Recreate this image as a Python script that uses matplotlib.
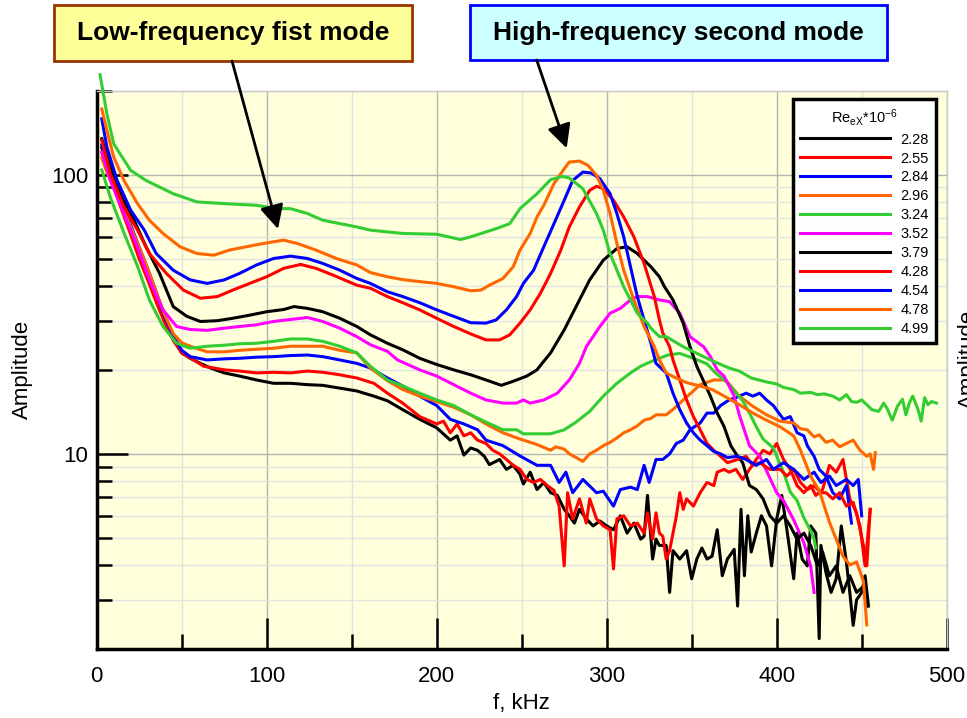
import matplotlib.pyplot as plt
from matplotlib.patches import Rectangle, FancyArrowPatch
from matplotlib.ticker import MultipleLocator, LogLocator, NullFormatter, FuncFormatter

plt.rcParams['font.family'] = ['Liberation Sans', 'DejaVu Sans']
plt.rcParams['mathtext.default'] = 'regular'

# legend labels (Re_eX * 1e-6) and line colours
re_labels = ['2.28', '2.55', '2.84', '2.96', '3.24', '3.52', '3.79', '4.28', '4.54', '4.78', '4.99']
colors = ['#000000', '#FF0000', '#0000FF', '#FF6600', '#33CC33', '#FF00FF',
          '#000000', '#FF0000', '#0000FF', '#FF6600', '#33CC33']

# (f [kHz], amplitude)
s228 = [(3, 125), (6, 108), (10, 92), (15, 76), (20, 63), (25, 52), (30, 43), (35, 36), (40, 30), (45, 26),
        (50, 23), (55, 22), (61, 21.1), (67, 20.3), (75, 19.5), (84, 19.0), (94, 18.4), (104, 17.9), (114, 17.9),
        (124, 17.7), (133, 17.6), (143, 17.2), (153, 16.8), (163, 16.1), (171, 15.5), (180, 14.4), (190, 13.3),
        (200, 12.4), (208, 11.2), (212, 11.6), (216, 9.9), (220, 10.5), (224, 10.3), (228, 9.8), (231, 9.15),
        (237, 9.55), (241, 8.8), (245, 9.1), (249, 8.45), (251, 7.8), (255, 8.6), (259, 7.45), (263, 7.9),
        (267, 7.26), (271, 7.1), (275, 6.33), (278, 6.0), (281, 5.65), (284, 6.33), (288, 5.85), (292, 5.52),
        (296, 5.75), (300, 5.52), (304, 5.35), (308, 6.0), (312, 5.2), (316, 5.65), (320, 4.95), (322, 5.07),
        (324, 7.1), (327, 4.2), (329, 4.95), (331, 4.7), (335, 4.7), (337, 3.19), (339, 4.5), (343, 4.2),
        (347, 4.5), (350, 3.57), (353, 4.2), (356, 4.6), (359, 4.2), (362, 4.3), (365, 5.35), (368, 3.66),
        (371, 4.2), (375, 4.55), (377, 2.85), (379, 6.33), (381, 3.66), (383, 6.0), (385, 4.45), (388, 5.2),
        (391, 6.0), (394, 5.52), (397, 3.97), (400, 5.85), (403, 7.1), (406, 5.35), (410, 3.57), (412, 5.2),
        (415, 4.2), (418, 3.97), (420, 5.52), (423, 5.2), (425, 2.18), (426, 4.7), (429, 3.75), (432, 3.19),
        (435, 3.57), (438, 5.52), (441, 4.1), (443, 3.19), (445, 2.43), (447, 3.0), (450, 3.19), (452, 3.66),
        (454, 2.85)]
s255 = [(3, 120), (6, 104), (10, 90), (15, 74), (20, 61), (25, 50), (30, 42), (35, 35), (40, 29.5), (45, 25.5),
        (50, 23), (57, 21.7), (63, 20.6), (75, 20.0), (84, 19.8), (94, 19.5), (104, 19.6), (114, 19.5),
        (124, 19.8), (133, 19.6), (143, 19.2), (153, 18.7), (163, 17.9), (167, 17.2), (171, 16.5), (180, 15.2),
        (190, 13.6), (200, 12.8), (204, 13.1), (208, 11.9), (212, 12.8), (216, 11.6), (220, 11.9), (224, 11.2),
        (229, 10.9), (233, 10.3), (237, 10.0), (241, 9.55), (245, 9.1), (249, 8.8), (253, 8.1), (257, 7.9),
        (261, 8.1), (265, 7.7), (269, 7.4), (272, 6.5), (275, 3.97), (277, 7.26), (280, 5.85), (284, 6.9),
        (288, 5.65), (290, 6.9), (294, 5.85), (298, 5.52), (302, 5.35), (304, 3.87), (306, 5.85), (310, 6.0),
        (314, 5.52), (318, 5.65), (322, 5.2), (324, 6.15), (327, 4.95), (329, 6.15), (331, 5.2), (333, 5.07),
        (335, 4.2), (337, 4.5), (341, 6.0), (343, 7.26), (345, 6.33), (347, 6.9), (351, 6.5), (355, 7.26),
        (359, 7.9), (363, 7.7), (365, 8.6), (369, 8.8), (372, 8.6), (376, 8.8), (380, 8.1), (384, 8.8),
        (388, 9.55), (392, 10.3), (396, 10.0), (400, 10.9), (404, 9.55), (408, 8.8), (412, 7.7), (416, 7.26),
        (420, 7.7), (423, 7.1), (427, 7.45), (431, 9.1), (435, 8.6), (439, 9.55), (443, 6.9), (447, 6.15),
        (451, 4.7), (453, 3.97), (455, 6.33)]
s284 = [(3, 128), (6, 112), (10, 95), (15, 79), (20, 66), (25, 55), (30, 46), (35, 38), (40, 31), (45, 26.5),
        (50, 23.5), (55, 22.3), (65, 21.7), (75, 21.9), (84, 22.0), (94, 22.2), (104, 22.3), (114, 22.5),
        (124, 22.6), (133, 22.3), (143, 21.7), (153, 21.1), (161, 20.3), (171, 18.7), (180, 17.5), (190, 16.1),
        (200, 14.9), (208, 13.3), (216, 12.8), (224, 12.2), (229, 11.2), (239, 10.7), (249, 9.83), (259, 9.1),
        (267, 9.1), (272, 7.9), (276, 8.6), (280, 7.26), (286, 8.1), (294, 7.26), (298, 7.35), (304, 6.5),
        (308, 7.45), (314, 7.6), (318, 7.45), (322, 9.1), (325, 7.9), (329, 9.55), (333, 9.55), (337, 10.0),
        (341, 10.9), (345, 11.2), (349, 12.2), (355, 12.9), (359, 14.0), (363, 14.0), (367, 14.9), (372, 15.6),
        (376, 15.9), (382, 16.5), (386, 16.1), (390, 16.5), (394, 15.6), (398, 14.9), (404, 13.3), (408, 13.6),
        (412, 11.9), (416, 11.6), (418, 10.7), (422, 9.8), (425, 8.8), (429, 8.33), (433, 7.26), (437, 6.9),
        (441, 7.7), (444, 5.65)]
s296 = [(3, 115), (6, 102), (10, 90), (15, 77), (20, 65), (25, 55), (30, 46), (35, 38), (40, 31.5), (45, 27),
        (50, 25), (55, 24.3), (65, 23.2), (75, 23.2), (84, 23.5), (94, 23.7), (104, 23.9), (114, 24.3),
        (124, 24.3), (133, 24.3), (143, 23.5), (153, 23.0), (161, 20.3), (171, 18.3), (180, 17.0), (190, 16.1),
        (200, 15.4), (210, 14.7), (220, 13.8), (229, 12.8), (239, 11.9), (249, 11.3), (259, 10.8), (267, 10.3),
        (270, 10.6), (275, 10.4), (278, 10.0), (282, 9.7), (286, 9.4), (290, 10.0), (294, 10.3), (298, 10.7),
        (302, 11.0), (306, 11.4), (310, 11.9), (314, 12.2), (318, 12.6), (322, 13.2), (326, 13.4), (329, 13.8),
        (335, 13.8), (340, 14.6), (345, 15.6), (350, 16.6), (355, 17.7), (363, 18.4), (370, 18.4), (378, 16.1),
        (386, 14.8), (394, 13.8), (402, 13.1), (410, 12.9), (414, 12.3), (418, 12.2), (422, 11.5), (425, 11.7),
        (429, 11.0), (433, 11.2), (437, 10.6), (441, 10.9), (445, 11.2), (449, 10.3), (453, 9.8), (455, 10.0),
        (457, 8.8), (458, 10.1)]
s324 = [(3, 104), (8, 83), (16, 62), (24, 47), (31, 35.6), (39, 28.6), (47, 24.9), (55, 23.9), (65, 24.3),
        (75, 24.5), (84, 24.8), (94, 24.9), (104, 25.3), (114, 25.8), (124, 25.8), (133, 25.3), (143, 24.3),
        (153, 23.0), (161, 20.6), (171, 18.4), (180, 17.5), (190, 16.5), (200, 15.6), (210, 14.9), (220, 13.8),
        (229, 13.0), (239, 12.2), (247, 12.2), (251, 11.8), (259, 11.8), (267, 11.8), (275, 12.2), (282, 13.0),
        (290, 14.2), (298, 16.1), (306, 17.9), (314, 19.5), (320, 20.6), (326, 21.4), (331, 22.0), (336, 22.6),
        (343, 22.9), (351, 22.0), (359, 21.0), (364, 19.5), (371, 18.0), (375, 16.8), (380, 15.5), (384, 14.0),
        (388, 12.5), (392, 11.3), (398, 10.5), (404, 8.6), (408, 7.3), (412, 6.8), (416, 5.9), (420, 5.3),
        (422, 4.95), (423, 4.6)]
s352 = [(3, 120.5), (8, 95.4), (16, 72.6), (24, 55.2), (31, 42), (39, 32.8), (47, 28.6), (55, 27.9), (65, 27.7),
        (75, 28.2), (84, 28.6), (94, 29.0), (104, 29.8), (114, 30.3), (124, 30.8), (133, 29.8), (143, 28.2),
        (153, 26.3), (161, 24.6), (171, 23.3), (177, 21.7), (190, 20.0), (200, 19.0), (210, 17.7), (220, 16.5),
        (229, 15.6), (239, 15.2), (247, 15.2), (251, 15.6), (255, 15.2), (263, 15.6), (271, 16.5), (278, 18.4),
        (284, 21.1), (288, 24.2), (296, 28.6), (302, 31.9), (308, 33.2), (314, 35.6), (318, 36.6), (324, 36.6),
        (331, 35.6), (337, 35.1), (343, 31.9), (349, 26.3), (357, 24.2), (361, 22.3), (365, 20.0), (369, 19.0),
        (375, 16.1), (378, 13.8), (384, 10.7), (390, 9.8), (394, 8.7), (400, 7.26), (404, 6.8), (410, 5.8),
        (416, 4.8), (420, 3.95), (422, 3.19)]
s379 = [(3, 134.5), (8, 106.5), (14, 85.5), (22, 68.7), (29, 55.2), (37, 44.3), (45, 33.7), (53, 31.1),
        (61, 29.8), (71, 30.0), (80, 30.6), (90, 31.4), (100, 32.3), (110, 32.9), (116, 33.7), (124, 33.2),
        (133, 32.3), (143, 30.6), (153, 28.6), (161, 26.7), (171, 24.9), (180, 23.6), (190, 22.0), (200, 20.9),
        (210, 20.0), (220, 19.2), (229, 18.4), (238, 17.6), (245, 18.2), (253, 19.0), (259, 20.0), (262, 21.1),
        (267, 23.0), (275, 27.8), (282, 33.7), (290, 42), (298, 49.4), (306, 54.4), (312, 55.2), (318, 52.2),
        (326, 46.8), (331, 43.1), (334, 39.7), (339, 35.6), (345, 29.4), (349, 24.2), (353, 20.6), (361, 16.1),
        (365, 14.0), (369, 12.55), (373, 10.7), (377, 9.8), (380, 9.3), (384, 7.7), (388, 7.45), (392, 6.9),
        (396, 6.0), (400, 5.65), (404, 6.0), (408, 5.52), (412, 4.95), (416, 5.2), (420, 4.7), (424, 3.97),
        (427, 4.45), (431, 3.66), (435, 3.97), (439, 3.19), (443, 3.66), (447, 3.19), (451, 3.35), (453, 2.85)]
s428 = [(3, 132.6), (8, 100.8), (16, 76.7), (24, 63.3), (31, 52.2), (41, 44.3), (51, 38.6), (61, 36.1),
        (71, 36.6), (80, 38.6), (90, 40.8), (100, 43.1), (110, 46.2), (120, 47.7), (129, 46.2), (139, 43.7),
        (153, 40.2), (161, 39.2), (171, 36.6), (180, 34.8), (190, 32.8), (200, 30.6), (210, 28.6), (220, 26.9),
        (229, 25.6), (237, 25.6), (243, 26.7), (249, 29.4), (255, 32.8), (261, 37.6), (267, 44.3), (273, 53.7),
        (278, 65), (284, 76.7), (290, 87.9), (294, 90.9), (298, 89.1), (304, 81), (310, 70.6), (316, 59.9),
        (322, 48.1), (328, 36.6), (331, 30.2), (333, 27.1), (337, 24.2), (339, 21.7), (343, 18.4), (347, 15.6),
        (351, 13.6), (355, 12.2), (359, 10.9), (363, 10.3), (367, 9.8), (371, 9.3), (377, 9.55), (382, 9.8),
        (386, 9.1), (390, 9.3), (396, 8.8), (402, 8.8), (406, 8.33), (410, 8.8), (414, 7.9), (418, 7.45),
        (422, 7.7), (426, 7.26), (429, 7.26), (433, 6.9), (437, 7.26), (441, 6.5), (445, 6.7), (449, 5.52),
        (452, 3.97), (455, 6.33)]
s454 = [(3, 158.5), (6, 125.5), (12, 95.4), (20, 74.6), (28, 63.3), (35, 52.2), (45, 45.5), (55, 42), (65, 40.8),
        (75, 42), (84, 44.3), (94, 47.5), (104, 50.1), (114, 51.1), (124, 50.1), (133, 48.1), (143, 45.5),
        (153, 42.5), (161, 40.8), (171, 38.1), (180, 36.6), (190, 34.8), (200, 32.8), (210, 31.1), (220, 29.5),
        (229, 29.4), (235, 30.2), (241, 32.8), (247, 36.6), (251, 40.8), (257, 45.5), (263, 55.2), (269, 66.8),
        (275, 81), (280, 95.4), (286, 102.2), (291, 101.4), (296, 96.8), (302, 85.5), (306, 72.6), (310, 59.9),
        (314, 46.8), (318, 36.6), (322, 30.2), (326, 24.9), (329, 21.1), (335, 19.5), (339, 16.5), (343, 14.4),
        (347, 12.9), (351, 11.9), (355, 11.2), (359, 10.7), (363, 10.2), (367, 10.0), (371, 9.7), (377, 9.8),
        (382, 9.55), (388, 9.1), (394, 9.55), (398, 8.8), (404, 9.3), (410, 8.8), (416, 8.1), (422, 8.6),
        (426, 7.9), (431, 8.33), (435, 7.7), (441, 8.1), (445, 7.7), (448, 8.1), (450, 6.0)]
s478 = [(3, 172), (6, 144), (10, 115.7), (16, 95.4), (24, 78.8), (31, 68.7), (39, 61.6), (49, 55.2), (59, 52.2),
        (69, 51.5), (78, 53.7), (88, 55.2), (98, 56.7), (110, 58.3), (118, 56.7), (129, 53.7), (141, 50.1),
        (153, 47.5), (161, 44.6), (171, 43.1), (180, 42.1), (190, 41.4), (200, 40.8), (210, 39.7), (220, 38.4),
        (226, 38.6), (231, 40.2), (239, 42.5), (245, 46.8), (249, 53.7), (255, 61.6), (259, 70.6), (263, 77.7),
        (269, 92.9), (275, 105), (278, 111), (284, 111.9), (289, 108), (294, 99.5), (298, 87.9), (302, 72.6),
        (306, 56.7), (310, 45.5), (316, 35.6), (322, 28.6), (328, 24.2), (331, 21.7), (335, 19.5), (340, 18.8),
        (347, 18.0), (355, 17.5), (362, 17.0), (370, 16.0), (378, 15.0), (386, 14.0), (394, 13.2), (402, 12.5),
        (410, 11.6), (414, 10.3), (420, 8.3), (425, 7.4), (431, 5.7), (435, 4.95), (439, 4.3), (443, 4.0),
        (447, 4.1), (451, 3.5), (453, 2.44)]
s499 = [(2, 228), (3, 210), (6, 165), (10, 129), (20, 103.6), (29, 95.4), (45, 85.5), (59, 79.9), (75, 78.8),
        (94, 77.7), (106, 75.6), (114, 75.6), (124, 72.6), (133, 68.7), (153, 65), (161, 63.3), (180, 61.6),
        (200, 61.2), (214, 58.6), (220, 59.9), (235, 64.1), (243, 66.8), (249, 75.6), (259, 85.5), (267, 96),
        (274, 98.6), (278, 97.3), (286, 89.1), (294, 72.6), (298, 63.3), (302, 52.2), (310, 39.7), (318, 31.9),
        (324, 29.4), (326, 28.2), (331, 26.3), (335, 26.3), (345, 24.2), (361, 21.7), (372, 20.3), (378, 19.8),
        (385, 18.7), (394, 18.1), (400, 17.8), (404, 17.3), (410, 17.0), (414, 16.5), (420, 16.6), (424, 16.3),
        (428, 16.4), (433, 16.1), (437, 15.6), (441, 16.3), (444, 15.4), (447, 15.3), (450, 15.6), (453, 15.0),
        (456, 14.4), (460, 14.2), (463, 15.2), (465, 14.5), (468, 13.2), (471, 14.8), (474, 15.7), (476, 13.8),
        (478, 15.2), (480, 16.1), (483, 14.5), (485, 13.1), (487, 15.9), (489, 15.0), (491, 15.4), (494, 15.2)]

series = [s228, s255, s284, s296, s324, s352, s379, s428, s454, s478, s499]

fig = plt.figure(figsize=(9.67, 7.18), dpi=100)
ax = fig.add_axes([0.1, 0.0961, 0.879, 0.7776])
ax.set_facecolor('#FFFFDC')

handles = []
for data, col, lab in zip(series, colors, re_labels):
    f, a = zip(*data)
    ln, = ax.plot(f, a, color=col, lw=2.2, label=lab, clip_on=False, zorder=3)
    handles.append(ln)

ax.set_yscale('log')
ax.set_xlim(0, 500)
ax.set_ylim(2, 200)

ax.xaxis.set_major_locator(MultipleLocator(100))
ax.xaxis.set_minor_locator(MultipleLocator(50))
ax.yaxis.set_major_locator(LogLocator(base=10))
ax.yaxis.set_minor_locator(LogLocator(base=10, subs=range(2, 10)))
ax.yaxis.set_major_formatter(FuncFormatter(lambda v, p: f'{v:g}'))
ax.yaxis.set_minor_formatter(NullFormatter())

ax.grid(which='major', color='#B4B4B4', lw=1, zorder=0)
ax.grid(which='minor', color='#E2E2E2', lw=1, zorder=0)
ax.set_axisbelow(True)

ax.tick_params(which='major', direction='in', length=22, width=1.8, color='black',
               labelsize=16, top=False, right=False)
ax.tick_params(which='minor', direction='in', length=11, width=1.8, color='black',
               top=False, right=False)
ax.tick_params(axis='x', which='major', pad=12)
ax.tick_params(axis='y', which='major', pad=6)

for side in ['left', 'bottom']:
    ax.spines[side].set_linewidth(2.5)
    ax.spines[side].set_color('black')
for side in ['top', 'right']:
    ax.spines[side].set_linewidth(1)
    ax.spines[side].set_color('#C8C8C8')

ax.set_xlabel('f, kHz', fontsize=16)
ax.set_ylabel('Amplitude', fontsize=16)
ax.xaxis.set_label_coords(0.5, -0.098)
ax.xaxis.label.set_va('center')
ax.yaxis.set_label_coords(-0.087, 0.5)
ax.yaxis.label.set_va('center')

# clipped label of a second panel at the right edge
fig.text(958 / 967, 0.5, 'Amplitude', rotation=90, ha='left', va='center', fontsize=16)

leg = ax.legend(handles, re_labels, title=r'Re$_{eX}$*10$^{-6}$', loc='upper left',
                bbox_to_anchor=(792.7 / 967, 1 - 99.3 / 718), bbox_transform=fig.transFigure,
                frameon=True, fancybox=False, edgecolor='black', framealpha=1, facecolor='white',
                fontsize=10.5, title_fontsize=10.5, handlelength=6.2, handletextpad=0.7,
                labelspacing=0.34, borderpad=0.5, borderaxespad=0)
leg.get_frame().set_linewidth(2.5)
leg.set_zorder(10)

# annotation boxes
fig.add_artist(Rectangle((54 / 967, 1 - 60.7 / 718), (412 - 54) / 967, 55.7 / 718,
                         transform=fig.transFigure, facecolor='#FFFF99', edgecolor='#993300', lw=2))
fig.text(233 / 967, 1 - 33 / 718, 'Low-frequency fist mode', ha='center', va='center',
         fontsize=19, fontweight='bold')
fig.add_artist(Rectangle((470 / 967, 1 - 60 / 718), (886.7 - 470) / 967, 55 / 718,
                         transform=fig.transFigure, facecolor='#CCFFFF', edgecolor='#0000FF', lw=2))
fig.text(678 / 967, 1 - 33 / 718, 'High-frequency second mode', ha='center', va='center',
         fontsize=19, fontweight='bold')

for p0, p1 in [((232, 61), (278, 229)), ((536.7, 60), (566.7, 148.3))]:
    arr = FancyArrowPatch((p0[0] / 967, 1 - p0[1] / 718), (p1[0] / 967, 1 - p1[1] / 718),
                          transform=fig.transFigure, arrowstyle='-|>,head_length=0.8,head_width=0.4',
                          mutation_scale=18, lw=2, color='black', shrinkA=0, shrinkB=0)
    fig.add_artist(arr)

fig.savefig('out.png', dpi=100)
